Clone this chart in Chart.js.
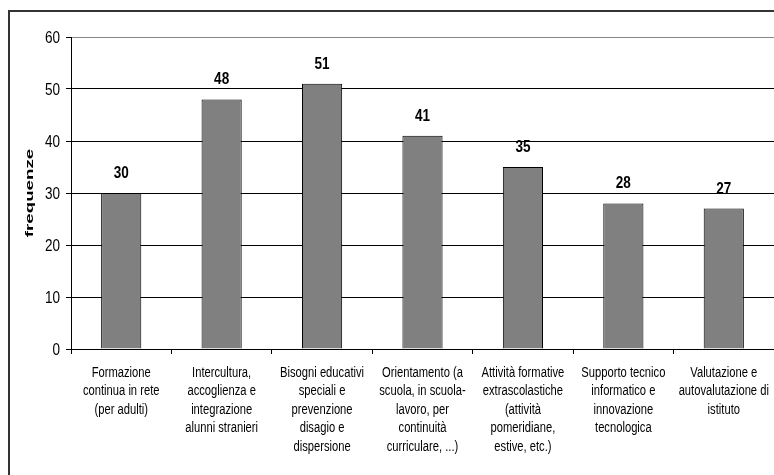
<!DOCTYPE html>
<html>
<head>
<meta charset="utf-8">
<script src="https://cdn.jsdelivr.net/npm/chart.js@4.4.1/dist/chart.umd.min.js"></script>
<style>
  html, body { margin: 0; padding: 0; background: #fff; }
  #box { width: 774px; height: 475px; }
</style>
</head>
<body>
<div id="box"><canvas id="myChart" width="774" height="475"></canvas></div>
<script>
var categories = [
    ["Formazione", "continua in rete", "(per adulti)"],
    ["Intercultura,", "accoglienza e", "integrazione", "alunni stranieri"],
    ["Bisogni educativi", "speciali e", "prevenzione", "disagio e", "dispersione"],
    ["Orientamento (a", "scuola, in scuola-", "lavoro, per", "continuità", "curriculare, ...)"],
    ["Attività formative", "extrascolastiche", "(attività", "pomeridiane,", "estive, etc.)"],
    ["Supporto tecnico", "informatico e", "innovazione", "tecnologica"],
    ["Valutazione e", "autovalutazione di", "istituto"]
];
var frequenze = [30, 48, 51, 41, 35, 28, 27];
var yTicks = { min: 0, max: 60, step: 10 };
var yTitle = "frequenze";

var sans = "'Liberation Sans', Arial, sans-serif";

// text squeezed horizontally, like a narrow face
function narrowText(ctx, text, x, y, squeeze) {
    ctx.save();
    ctx.translate(x, y);
    ctx.scale(squeeze, 1);
    ctx.fillText(text, 0, 0);
    ctx.restore();
}

// left and top edge of the outer frame
var framePlugin = {
    id: 'frame',
    beforeDraw: function (chart) {
        var ctx = chart.ctx;
        ctx.save();
        ctx.strokeStyle = '#333';
        ctx.lineWidth = 2;
        ctx.beginPath();
        ctx.moveTo(9, chart.height);
        ctx.lineTo(9, 11);
        ctx.lineTo(chart.width, 11);
        ctx.stroke();
        ctx.restore();
    }
};

// tick labels for both axes + rotated axis title
var labelPlugin = {
    id: 'labels',
    afterDraw: function (chart) {
        var ctx = chart.ctx;
        var area = chart.chartArea;
        var xs = chart.scales.x;
        var ys = chart.scales.y;
        ctx.save();
        ctx.fillStyle = '#000';

        ctx.font = "16.5px " + sans;
        ctx.textAlign = 'right';
        ctx.textBaseline = 'middle';
        ys.ticks.forEach(function (t) {
            narrowText(ctx, String(t.value), 60, ys.getPixelForValue(t.value) + 1, 0.82);
        });

        ctx.font = "14px " + sans;
        ctx.textAlign = 'center';
        categories.forEach(function (lines, i) {
            var x = xs.getPixelForTick(i);
            lines.forEach(function (line, j) {
                narrowText(ctx, line, x, xs.top + 24 + j * 18.5, 0.8);
            });
        });

        ctx.translate(30, (area.top + area.bottom) / 2);
        ctx.rotate(-Math.PI / 2);
        ctx.scale(1.7, 1);
        ctx.font = "bold 11px " + sans;
        ctx.fillText(yTitle, 0, 0);
        ctx.restore();
    }
};

// value on top of each bar
var valuePlugin = {
    id: 'values',
    afterDatasetsDraw: function (chart) {
        var ctx = chart.ctx;
        var meta = chart.getDatasetMeta(0);
        ctx.save();
        ctx.font = "bold 16.5px " + sans;
        ctx.fillStyle = '#000';
        ctx.textAlign = 'center';
        ctx.textBaseline = 'alphabetic';
        meta.data.forEach(function (bar, i) {
            narrowText(ctx, String(frequenze[i]), bar.x, bar.y - 15, 0.82);
        });
        ctx.restore();
    }
};

window.onload = function ()
{
    var ctx = document.getElementById("myChart").getContext('2d');
    new Chart(ctx, {
        type: 'bar',
        data: {
            labels: categories,
            datasets: [{
                data: frequenze,
                backgroundColor: '#808080',
                borderColor: '#000',
                borderWidth: 1,
                barPercentage: 0.4,
                categoryPercentage: 1.0
            }]
        },
        options: {
            responsive: false,
            animation: false,
            layout: { padding: { top: 37, left: 0, right: 0, bottom: 0 } },
            plugins: {
                legend: { display: false },
                tooltip: { enabled: false }
            },
            scales: {
                x: {
                    offset: true,
                    grid: {
                        offset: true,
                        drawOnChartArea: false,
                        tickLength: 5,
                        tickColor: '#000'
                    },
                    border: { color: '#000', width: 1 },
                    ticks: { display: false, autoSkip: false },
                    afterFit: function (scale) { scale.height = 126; }
                },
                y: {
                    min: yTicks.min,
                    max: yTicks.max,
                    grid: {
                        color: function (c) { return c.tick && c.tick.value === yTicks.max ? '#888' : '#000'; },
                        tickColor: '#000',
                        tickLength: 5
                    },
                    border: { color: '#000', width: 1 },
                    ticks: { display: false, stepSize: yTicks.step },
                    afterFit: function (scale) { scale.width = 71; }
                }
            }
        },
        plugins: [framePlugin, labelPlugin, valuePlugin]
    });
};
</script>
</body>
</html>
